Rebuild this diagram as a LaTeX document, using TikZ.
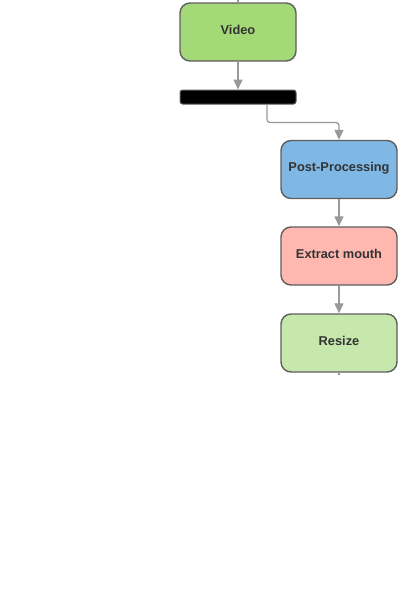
\documentclass[tikz,border=0pt]{standalone}
\usepackage{fontspec}
\setmainfont{Liberation Sans}
\usetikzlibrary{arrows.meta}
\definecolor{vgreen}{HTML}{A3D977}
\definecolor{pblue}{HTML}{7FB8E4}
\definecolor{epink}{HTML}{FFB8B0}
\definecolor{rgreen}{HTML}{C7E8AC}
\definecolor{bordergray}{HTML}{5E5E5E}
\definecolor{arrowgray}{HTML}{999999}
\definecolor{txtgray}{HTML}{333333}
\tikzset{
  procbox/.style={draw=bordergray, line width=1.4pt, rounded corners=10pt,
    minimum width=116pt, minimum height=58pt, inner sep=0pt,
    text height=9pt, text depth=5pt,
    font=\fontsize{12.8}{14}\selectfont\bfseries, text=txtgray},
  barbox/.style={draw=bordergray, line width=1pt, fill=black, rounded corners=2.5pt,
    minimum width=116pt, minimum height=14pt, inner sep=0pt},
  conn/.style={draw=arrowgray, line width=1.3pt, -{Triangle[length=10pt,width=9pt]}},
  stub/.style={draw=arrowgray, line width=1.3pt}
}
\begin{document}
\begin{tikzpicture}[x=1pt,y=-1pt]
\useasboundingbox (0,0) rectangle (400,606);
\node[procbox, fill=vgreen] (video) at (238,32) {Video};
\node[barbox] (bar) at (238,97) {};
\node[procbox, fill=pblue] (post) at (339,169.5) {Post-Processing};
\node[procbox, fill=epink] (mouth) at (339,256) {Extract mouth};
\node[procbox, fill=rgreen] (resize) at (339,343) {Resize};
\coordinate (topstub) at (238,0);
\coordinate (botstub) at (339,375);
\draw[stub] (topstub) -- (video.north);
\draw[stub] (resize.south) -- (botstub);
\draw[conn] (video.south) -- (bar.north);
\draw[conn, rounded corners=3pt] ([xshift=29pt]bar.south) -- ++(0,18) -| (post.north);
\draw[conn] (post.south) -- (mouth.north);
\draw[conn] (mouth.south) -- (resize.north);
\end{tikzpicture}
\end{document}
